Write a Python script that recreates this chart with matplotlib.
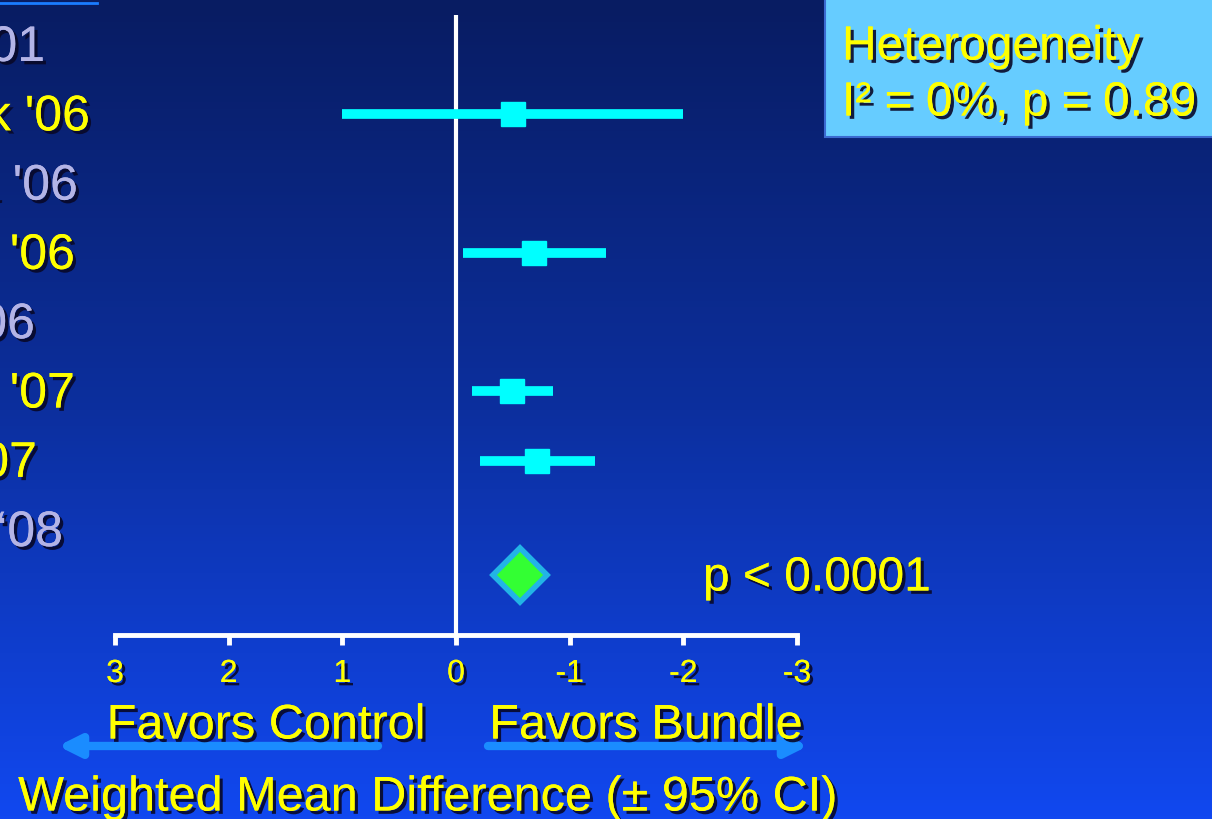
import numpy as np
import matplotlib
matplotlib.use("Agg")
import matplotlib.pyplot as plt
import matplotlib.patheffects as pe
from matplotlib.patches import Rectangle
from matplotlib.colors import LinearSegmentedColormap

# ---------------- data ----------------
study_labels = ["'01", "k '06", "a '06", "s '06", "'06", "a '07", "'07", "\u201808"]
label_colors = ["#b4b4e6", "#ffff00", "#b4b4e6", "#ffff00", "#b4b4e6", "#ffff00", "#ffff00", "#b4b4e6"]
estimates = [np.nan, -0.50, np.nan, -0.69, np.nan, -0.49, -0.71, np.nan]
ci_low = [np.nan, 1.00, np.nan, -0.06, np.nan, -0.14, -0.21, np.nan]
ci_high = [np.nan, -2.00, np.nan, -1.32, np.nan, -0.85, -1.22, np.nan]
pooled_estimate = -0.56
tick_values = [3, 2, 1, 0, -1, -2, -3]
tick_labels = ["3", "2", "1", "0", "-1", "-2", "-3"]
heterogeneity_lines = ["Heterogeneity", "I\u00b2 = 0%, p = 0.89"]
pooled_p_text = "p < 0.0001"
left_label = "Favors Control"
right_label = "Favors Bundle"
x_title = "Weighted Mean Difference (\u00b1 95% CI)"

# ---------------- layout (pixel geometry) ----------------
W, H = 1212, 819
X3_PX, X0_PX = 115, 456
PX_PER_UNIT = (X0_PX - X3_PX) / 3.0
ROW0_PX, ROW_STEP = 45, 69.3

def px2x(px):
    return (X0_PX - px) / PX_PER_UNIT

def py2y(py):
    return (py - ROW0_PX) / ROW_STEP

FONT = "Liberation Sans"
YELLOW = "#ffff00"
shadow = [pe.withSimplePatchShadow(offset=(2.4, -2.4), shadow_rgbFace="#080828", alpha=0.9), pe.Normal()]

fig = plt.figure(figsize=(W / 100, H / 100), dpi=100)
ax = fig.add_axes([0, 0, 1, 1])
ax.set_axis_off()

xl = (px2x(0), px2x(W))
yl = (py2y(H), py2y(0))

# background gradient (dark top -> bright bottom)
cmap = LinearSegmentedColormap.from_list("bg", ["#081c62", "#0c2f9e", "#1148f0"])
grad = np.linspace(1, 0, 256).reshape(-1, 1)
ax.imshow(grad, extent=(xl[0], xl[1], yl[0], yl[1]), origin="lower",
          aspect="auto", cmap=cmap, zorder=0)
ax.set_xlim(*xl)
ax.set_ylim(*yl)

# thin header line top-left
ax.plot([px2x(0), px2x(97)], [py2y(3), py2y(3)], color="#1a7cff", lw=2, zorder=1)

# vertical zero line
ax.plot([0, 0], [py2y(15), py2y(640)], color="white", lw=3, zorder=2, solid_capstyle="butt")

# horizontal axis with ticks
ax.plot([tick_values[0], tick_values[-1]], [py2y(635), py2y(635)], color="white", lw=3.5, zorder=2)
for tv, tl in zip(tick_values, tick_labels):
    ax.plot([tv, tv], [py2y(635), py2y(645)], color="white", lw=3.5, zorder=2, solid_capstyle="butt")
    ax.text(tv, py2y(674), tl, color=YELLOW, fontsize=23, family=FONT, ha="center", va="center",
            path_effects=shadow, zorder=5)

# study labels (cut at the left edge as in the reference)
right_edges = [45, 90, 78, 75, 35, 75, 37, 63]
for i, (lab, col, re) in enumerate(zip(study_labels, label_colors, right_edges)):
    ax.text(px2x(re), i + 3 / ROW_STEP, lab, color=col, fontsize=36, family=FONT, ha="right",
            va="center", path_effects=shadow, zorder=5)

# study CIs and point estimates
for i in range(len(study_labels)):
    if np.isnan(estimates[i]):
        continue
    ax.plot([ci_low[i], ci_high[i]], [i, i], color="#00ffff", lw=7, zorder=3, solid_capstyle="butt")
    ax.plot(estimates[i], i, marker="s", color="#00ffff", markersize=17, zorder=4)

# pooled diamond
pooled_row = py2y(575)
ax.plot(pooled_estimate, pooled_row, marker="D", markersize=28, markerfacecolor="#33ff33",
        markeredgecolor="#22b4e6", markeredgewidth=4, zorder=4)
ax.text(px2x(703), py2y(578), pooled_p_text, color=YELLOW, fontsize=34.5, family=FONT,
        ha="left", va="center", path_effects=shadow, zorder=5)

# heterogeneity box
ax.add_patch(Rectangle((px2x(825), py2y(137)), px2x(1215) - px2x(825), py2y(-2) - py2y(137),
                       facecolor="#66ccff", edgecolor="#3a6ad0", lw=1.5, zorder=3))
for line, ypx in zip(heterogeneity_lines, [47, 103]):
    ax.text(px2x(842), py2y(ypx), line, color=YELLOW, fontsize=34.5, family=FONT,
            ha="left", va="center", path_effects=shadow, zorder=5)

# direction arrows
arrow_col = "#1a8cff"
ax.annotate("", xy=(px2x(58), py2y(746)), xytext=(px2x(378), py2y(746)),
            arrowprops=dict(arrowstyle="-|>", lw=6, color=arrow_col, mutation_scale=32,
                            shrinkA=0, shrinkB=0), zorder=4)
ax.annotate("", xy=(px2x(808), py2y(746)), xytext=(px2x(488), py2y(746)),
            arrowprops=dict(arrowstyle="-|>", lw=6, color=arrow_col, mutation_scale=32,
                            shrinkA=0, shrinkB=0), zorder=4)

ax.text(px2x(266), py2y(726), left_label, color=YELLOW, fontsize=35, family=FONT,
        ha="center", va="center", path_effects=shadow, zorder=5)
ax.text(px2x(646), py2y(726), right_label, color=YELLOW, fontsize=35, family=FONT,
        ha="center", va="center", path_effects=shadow, zorder=5)
ax.text(px2x(428), py2y(798), x_title, color=YELLOW, fontsize=35, family=FONT,
        ha="center", va="center", path_effects=shadow, zorder=5)

fig.savefig("out.png", dpi=100)
